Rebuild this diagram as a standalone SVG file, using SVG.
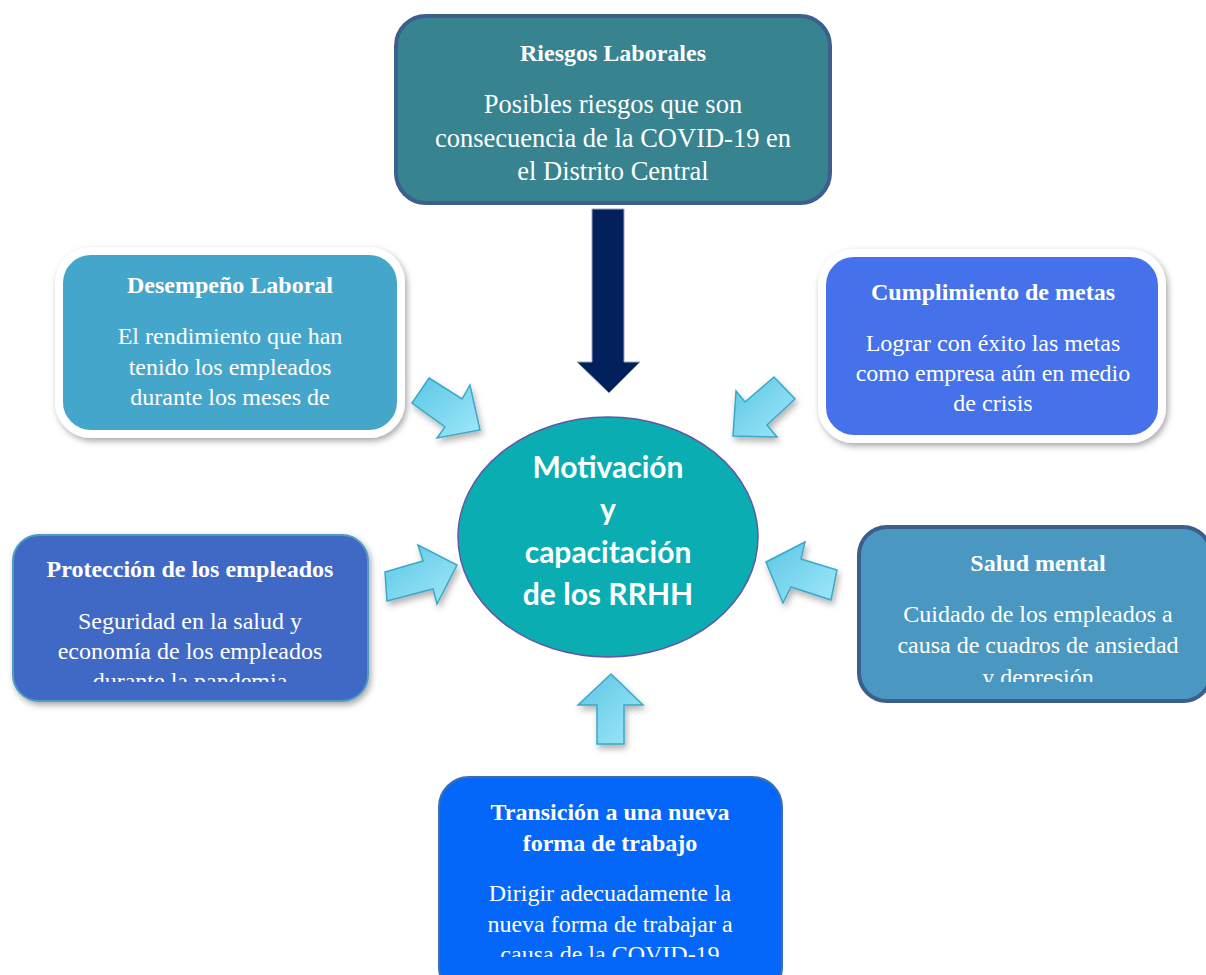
<svg xmlns="http://www.w3.org/2000/svg" width="1206" height="975" viewBox="0 0 1206 975">
<style>
.t{font-family:"Liberation Serif","Times New Roman",serif;font-weight:bold;font-size:24px;fill:#fff;text-anchor:middle}
.b{font-family:"Liberation Serif","Times New Roman",serif;font-size:24px;fill:#fff;text-anchor:middle}
.c{font-family:Lato,"Open Sans",sans-serif;font-weight:bold;font-size:30px;fill:#fff;text-anchor:middle}
.la{fill:url(#lg);stroke:#3aa8c8;stroke-width:1.5;filter:url(#sh);stroke-linejoin:miter}
</style>
<defs>
<linearGradient id="lg" x1="0" y1="0" x2="1" y2="1">
<stop offset="0" stop-color="#5cc6e4"/>
<stop offset="1" stop-color="#a0e8fa"/>
</linearGradient>
<filter id="sh" x="-20%" y="-20%" width="150%" height="150%">
<feDropShadow dx="2" dy="4" stdDeviation="3" flood-color="#000" flood-opacity="0.3"/>
</filter>
<filter id="bs" x="-10%" y="-10%" width="125%" height="130%">
<feDropShadow dx="2" dy="3" stdDeviation="3" flood-color="#000" flood-opacity="0.35"/>
</filter>
<clipPath id="cp1"><rect x="0" y="0" width="1206" height="682"/></clipPath>
<clipPath id="cp2"><rect x="0" y="0" width="1206" height="957"/></clipPath>
</defs>
<rect width="1206" height="975" fill="#fff"/>

<g id="connectors">
<polygon points="592,209 624,209 624,362 640,362 609,393 577,362 592,362" fill="#02205b" stroke="#9aa4bf" stroke-width="1"/>
<polygon class="la" points="429,378 462,399 470,385 480,430 437,438 445,427 412,403"/>
<polygon class="la" points="733,436 736,391 745,402 774,377 795,399 767,425 777,437"/>
<polygon class="la" points="385,572 423,561 418,545 457,565 437,604 433,589 387,601"/>
<polygon class="la" points="766,562 805,542 801,559 837,570 831,600 791,587 783,603"/>
<polygon class="la" points="611,674 643,705 624,705 624,744 597,744 597,705 578,705"/>
</g>

<g id="riesgos">
<rect x="396" y="16" width="434" height="187" rx="30" fill="#37838f" stroke="#3e5f8e" stroke-width="4"/>
<text class="t" x="613" y="61">Riesgos Laborales</text>
<text class="b" x="613" y="113" style="font-size:26.5px">Posibles riesgos que son</text>
<text class="b" x="613" y="147" style="font-size:26.5px">consecuencia de la COVID-19 en</text>
<text class="b" x="613" y="180" style="font-size:26.5px">el Distrito Central</text>
</g>

<g id="desempeno">
<rect x="59" y="251" width="342" height="183" rx="32" fill="#44a6cc" stroke="#fff" stroke-width="8" filter="url(#bs)"/>
<text class="t" x="230" y="293">Desempeño Laboral</text>
<text class="b" x="230" y="344">El rendimiento que han</text>
<text class="b" x="230" y="375">tenido los empleados</text>
<text class="b" x="230" y="405">durante los meses de</text>
</g>

<g id="cumplimiento">
<rect x="822" y="253" width="340" height="186" rx="32" fill="#4472ea" stroke="#fff" stroke-width="8" filter="url(#bs)"/>
<text class="t" x="993" y="300">Cumplimiento de metas</text>
<text class="b" x="993" y="351">Lograr con éxito las metas</text>
<text class="b" x="993" y="381">como empresa aún en medio</text>
<text class="b" x="993" y="411">de crisis</text>
</g>

<g id="proteccion">
<rect x="13" y="535" width="355" height="166" rx="26" fill="#4169c6" stroke="#4f9cc0" stroke-width="2" filter="url(#bs)"/>
<text class="t" x="190" y="577">Protección de los empleados</text>
<g clip-path="url(#cp1)">
<text class="b" x="190" y="629">Seguridad en la salud y</text>
<text class="b" x="190" y="659">economía de los empleados</text>
<text class="b" x="190" y="689">durante la pandemia</text>
</g>
</g>

<g id="salud">
<rect x="859" y="527" width="352" height="174" rx="28" fill="#4a98c1" stroke="#3b5e8c" stroke-width="4"/>
<text class="t" x="1038" y="571">Salud mental</text>
<g clip-path="url(#cp1)">
<text class="b" x="1038" y="622">Cuidado de los empleados a</text>
<text class="b" x="1038" y="653">causa de cuadros de ansiedad</text>
<text class="b" x="1038" y="685">y depresión</text>
</g>
</g>

<g id="transicion">
<rect x="439" y="777" width="343" height="220" rx="30" fill="#0566fa" stroke="#3d6fb0" stroke-width="2"/>
<text class="t" x="610" y="820">Transición a una nueva</text>
<text class="t" x="610" y="851">forma de trabajo</text>
<g clip-path="url(#cp2)">
<text class="b" x="610" y="901">Dirigir adecuadamente la</text>
<text class="b" x="610" y="932">nueva forma de trabajar a</text>
<text class="b" x="610" y="962">causa de la COVID-19</text>
</g>
</g>

<g id="centro">
<ellipse cx="608" cy="537" rx="150" ry="120" fill="#0aaeb2" stroke="#6058a6" stroke-width="1.5"/>
<text class="c" x="608" y="478">Motivación</text>
<text class="c" x="608" y="520">y</text>
<text class="c" x="608" y="563">capacitación</text>
<text class="c" x="608" y="605">de los RRHH</text>
</g>
</svg>
